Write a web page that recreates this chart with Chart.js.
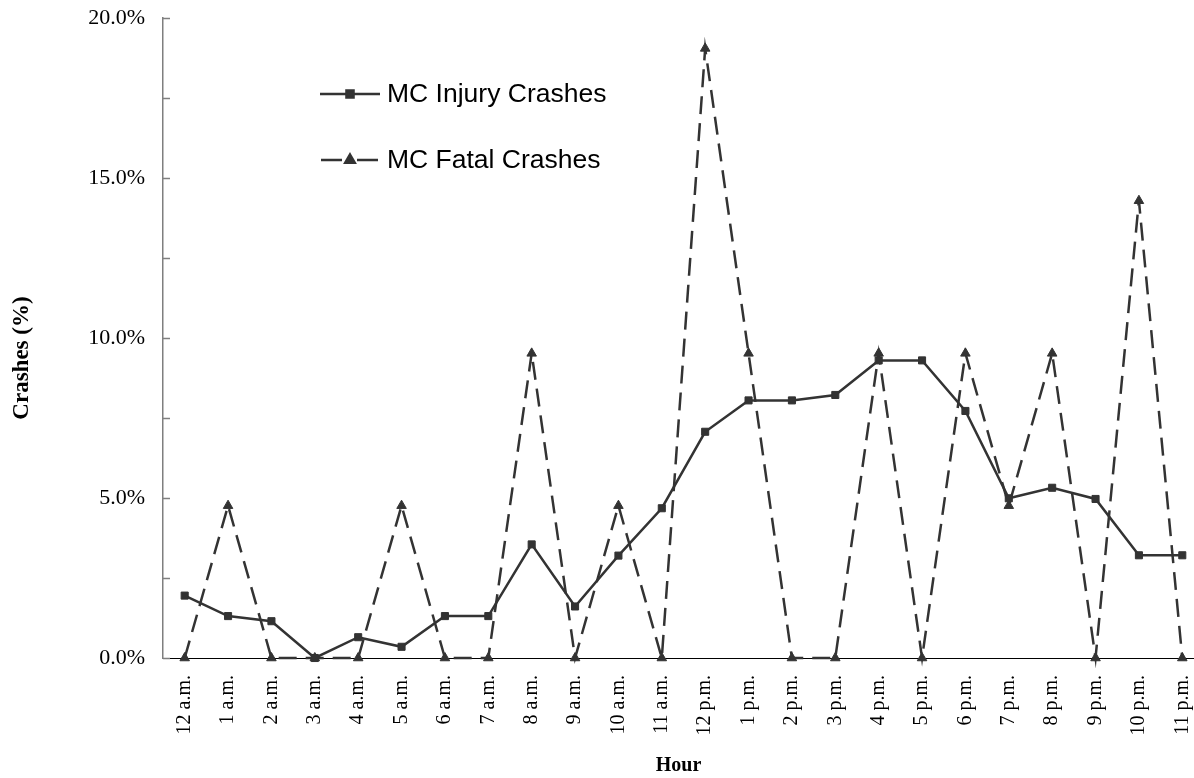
<!DOCTYPE html>
<html>
<head>
<meta charset="utf-8">
<script src="https://cdn.jsdelivr.net/npm/chart.js@4/dist/chart.umd.min.js"></script>
<style>
  html, body { margin: 0; padding: 0; background: #ffffff; overflow: hidden; }
  #wrap { width: 1194px; height: 778px; }
</style>
</head>
<body>
<div id="wrap"><canvas id="c" width="1194" height="778"></canvas></div>
<script>
const hours = ['12 a.m.','1 a.m.','2 a.m.','3 a.m.','4 a.m.','5 a.m.','6 a.m.','7 a.m.','8 a.m.','9 a.m.','10 a.m.','11 a.m.',
               '12 p.m.','1 p.m.','2 p.m.','3 p.m.','4 p.m.','5 p.m.','6 p.m.','7 p.m.','8 p.m.','9 p.m.','10 p.m.','11 p.m.'];
const injuryCrashes = [1.95,1.31,1.15,0,0.65,0.35,1.31,1.31,3.55,1.61,3.20,4.68,7.07,8.05,8.05,8.22,9.30,9.30,7.72,4.99,5.32,4.97,3.21,3.21];
const fatalCrashes  = [0,4.76,0,0,0,4.76,0,0,9.52,0,4.76,0,19.05,9.52,0,0,9.52,0,9.52,4.76,9.52,0,14.29,0];
const yTickValues = [0,2.5,5,7.5,10,12.5,15,17.5,20];
const seriesNames = ['MC Injury Crashes','MC Fatal Crashes'];
const yTitle = 'Crashes (%)';
const xTitle = 'Hour';

const ink = '#333333';
const serif = "'Liberation Serif','Times New Roman',serif";

const toPoints = arr => arr.map((v, i) => ({x: i, y: v}));

const innerTicks = {
  id: 'innerTicks',
  beforeDatasetsDraw(chart) {
    const y = chart.scales.y, ctx = chart.ctx, left = chart.chartArea.left;
    ctx.save();
    ctx.strokeStyle = '#7f7f7f';
    ctx.lineWidth = 1.5;
    yTickValues.forEach(v => {
      const p = Math.round(y.getPixelForValue(v)) + 0.5;
      ctx.beginPath();
      ctx.moveTo(left, p);
      ctx.lineTo(left + 7, p);
      ctx.stroke();
    });
    ctx.restore();
  }
};

const yAxisTitle = {
  id: 'yAxisTitle',
  afterDraw(chart) {
    const ctx = chart.ctx;
    ctx.save();
    ctx.translate(22, 358);
    ctx.rotate(-Math.PI / 2);
    ctx.fillStyle = '#000000';
    ctx.font = "bold 23px " + serif;
    ctx.textAlign = 'center';
    ctx.textBaseline = 'middle';
    ctx.fillText(yTitle, 0, 0);
    ctx.restore();
  }
};

const insideLegend = {
  id: 'insideLegend',
  afterDraw(chart) {
    const ctx = chart.ctx;
    const rows = [94, 160];
    chart.data.datasets.forEach((ds, i) => {
      const yy = rows[i];
      ctx.save();
      ctx.strokeStyle = ds.borderColor;
      ctx.lineWidth = ds.borderWidth;
      ctx.beginPath();
      if (ds.borderDash) {
        ctx.moveTo(321, yy); ctx.lineTo(342, yy);
        ctx.moveTo(357, yy); ctx.lineTo(378, yy);
      } else {
        ctx.moveTo(320, yy); ctx.lineTo(380, yy);
      }
      ctx.stroke();
      ctx.fillStyle = ds.pointBackgroundColor;
      ctx.strokeStyle = ds.pointBorderColor;
      Chart.helpers.drawPoint(ctx, {pointStyle: ds.pointStyle, radius: ds.pointRadius, rotation: 0, borderWidth: 1}, 350, yy);
      ctx.fillStyle = '#000000';
      ctx.font = "26.5px 'Liberation Sans', Arial, sans-serif";
      ctx.textBaseline = 'middle';
      ctx.textAlign = 'left';
      ctx.fillText(ds.label, 387, yy + 1);
      ctx.restore();
    });
  }
};

new Chart(document.getElementById('c'), {
  type: 'line',
  data: {
    datasets: [
      {
        label: seriesNames[0],
        data: toPoints(injuryCrashes),
        borderColor: ink,
        borderWidth: 2.5,
        pointStyle: 'rect',
        pointRadius: 5,
        pointBackgroundColor: ink,
        pointBorderColor: ink,
        pointBorderWidth: 1,
        tension: 0,
        fill: false,
        clip: false,
        order: 1
      },
      {
        label: seriesNames[1],
        data: toPoints(fatalCrashes),
        borderColor: ink,
        borderWidth: 2.5,
        borderDash: [18, 9],
        pointStyle: 'triangle',
        pointRadius: 5.5,
        pointBackgroundColor: ink,
        pointBorderColor: ink,
        pointBorderWidth: 1,
        tension: 0,
        fill: false,
        clip: false,
        order: 2
      }
    ]
  },
  options: {
    responsive: false,
    animation: false,
    layout: { autoPadding: false, padding: { left: 6, top: 18, right: 0, bottom: 0 } },
    plugins: {
      legend: { display: false },
      tooltip: { enabled: false }
    },
    scales: {
      x: {
        type: 'linear',
        min: -0.5,
        max: 23.27,
        afterBuildTicks: s => { s.ticks = hours.map((_, i) => ({value: i})); },
        afterFit: s => { s.height = 120; s.paddingRight = 0; s.paddingLeft = 0; },
        grid: { display: false, drawTicks: false },
        border: { display: true, color: '#000000', width: 1 },
        ticks: {
          autoSkip: false,
          minRotation: 90,
          maxRotation: 90,
          padding: 17,
          color: '#000000',
          font: { family: serif, size: 20 },
          callback: v => hours[v]
        },
        title: {
          display: true,
          text: xTitle,
          color: '#000000',
          font: { family: serif, size: 20, weight: 'bold' },
          padding: { top: 0, bottom: 0 }
        }
      },
      y: {
        min: 0,
        max: 20,
        afterBuildTicks: s => { s.ticks = yTickValues.map(v => ({value: v})); },
        afterFit: s => { s.width = 157; s.paddingTop = 0; s.paddingBottom = 0; },
        grid: { display: false, drawTicks: false },
        border: { display: true, color: '#7f7f7f', width: 1.5 },
        ticks: {
          padding: 18,
          color: '#000000',
          font: { family: serif, size: 22 },
          callback: v => (v % 5 === 0 ? v.toFixed(1) + '%' : '')
        },
        title: { display: false }
      }
    }
  },
  plugins: [innerTicks, yAxisTitle, insideLegend]
});
</script>
</body>
</html>
